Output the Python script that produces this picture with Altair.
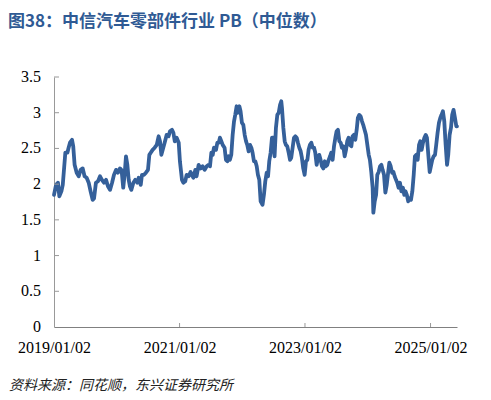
import altair as alt
import pandas as pd

title_text = "图38：中信汽车零部件行业 PB（中位数）"
source_text = "资料来源：同花顺，东兴证券研究所"

dates_2019 = ["2019-01-02","2019-01-14","2019-01-25","2019-02-02","2019-02-14","2019-02-22","2019-03-01","2019-03-09","2019-03-21","2019-03-28",
              "2019-04-05","2019-04-17","2019-04-24","2019-05-02","2019-05-14","2019-05-26","2019-06-06","2019-06-18","2019-06-29","2019-07-11",
              "2019-07-23","2019-08-03","2019-08-15","2019-08-23","2019-09-03","2019-09-15","2019-09-27","2019-10-08","2019-10-20","2019-11-01",
              "2019-11-12","2019-11-24","2019-12-06","2019-12-17","2019-12-29","2020-01-09","2020-01-21","2020-01-29"]
pb_2019 = [1.85,1.99,2.02,1.83,1.90,1.99,2.20,2.44,2.44,2.51,
           2.58,2.62,2.53,2.27,2.16,2.11,2.20,2.22,2.11,2.09,
           2.02,1.90,1.78,1.80,2.02,2.04,2.11,2.06,2.02,2.06,
           1.97,1.92,2.02,2.13,2.20,2.16,2.22,2.20]

dates_2020 = ["2020-02-02","2020-02-09","2020-02-17","2020-02-25","2020-03-04","2020-03-12","2020-03-19","2020-03-27","2020-04-08","2020-04-19",
              "2020-05-01","2020-05-09","2020-05-21","2020-05-28","2020-06-09","2020-06-20","2020-07-02","2020-07-10","2020-07-18","2020-07-29",
              "2020-08-10","2020-08-22","2020-09-02","2020-09-10","2020-09-18","2020-09-26","2020-10-07","2020-10-19","2020-10-30","2020-11-07",
              "2020-11-19","2020-11-27","2020-12-05","2020-12-16","2020-12-28","2021-01-04","2021-01-16","2021-01-24","2021-02-04","2021-02-12",
              "2021-02-24","2021-03-07"]
pb_2020 = [2.13,1.95,2.13,2.39,2.27,2.06,1.97,1.92,2.02,2.06,
           2.02,2.09,1.99,2.13,2.13,2.16,2.20,2.41,2.44,2.48,
           2.51,2.55,2.67,2.60,2.41,2.48,2.58,2.69,2.67,2.74,
           2.76,2.72,2.60,2.65,2.58,2.32,2.06,2.02,2.04,2.13,
           2.11,2.17]

dates_2021 = ["2021-03-15","2021-03-23","2021-04-04","2021-04-11","2021-04-23","2021-05-05","2021-05-16","2021-05-28","2021-06-09","2021-06-20",
              "2021-06-28","2021-07-06","2021-07-14","2021-07-21","2021-08-02","2021-08-10","2021-08-18","2021-08-25","2021-09-02","2021-09-10",
              "2021-09-21","2021-09-29","2021-10-07","2021-10-15","2021-10-22","2021-10-30","2021-11-07","2021-11-15","2021-11-22","2021-11-30",
              "2021-12-08","2021-12-16","2021-12-23","2021-12-31","2022-01-08","2022-01-16","2022-01-24","2022-01-31","2022-02-08","2022-02-16",
              "2022-02-24","2022-03-03","2022-03-11","2022-03-19","2022-03-27","2022-04-03","2022-04-11","2022-04-19"]
pb_2021 = [2.13,2.09,2.20,2.11,2.27,2.22,2.25,2.20,2.25,2.27,
           2.25,2.44,2.41,2.51,2.48,2.58,2.58,2.65,2.60,2.55,
           2.51,2.34,2.32,2.39,2.34,2.41,2.69,2.88,2.97,3.09,
           3.00,3.09,3.02,2.86,2.83,2.69,2.60,2.55,2.46,2.55,
           2.51,2.44,2.32,2.32,2.25,2.13,2.06,1.76]

dates_2022 = ["2022-04-30","2022-05-08","2022-05-16","2022-05-24","2022-06-01","2022-06-08","2022-06-16","2022-06-24","2022-07-02","2022-07-09",
              "2022-07-17","2022-07-25","2022-08-02","2022-08-10","2022-08-17","2022-08-21","2022-08-29","2022-09-06","2022-09-13","2022-09-21",
              "2022-09-29","2022-10-07","2022-10-14","2022-10-22","2022-10-30","2022-11-07","2022-11-15","2022-11-22","2022-11-30","2022-12-08",
              "2022-12-15","2022-12-23","2022-12-31","2023-01-08","2023-01-16","2023-01-23","2023-01-31","2023-02-08","2023-02-16","2023-02-24",
              "2023-03-03","2023-03-11","2023-03-19","2023-03-26","2023-04-03","2023-04-11","2023-04-19","2023-04-27","2023-05-04","2023-05-12",
              "2023-05-20","2023-05-28","2023-06-04"]
pb_2022 = [1.71,1.85,2.04,2.16,2.11,2.32,2.44,2.65,2.65,2.39,
           2.79,2.97,3.00,3.11,3.16,3.07,2.79,2.60,2.55,2.53,
           2.44,2.34,2.37,2.51,2.65,2.67,2.65,2.58,2.51,2.46,
           2.37,2.22,2.13,2.32,2.34,2.48,2.55,2.58,2.51,2.51,
           2.44,2.27,2.37,2.41,2.34,2.25,2.22,2.32,2.25,2.27,
           2.34,2.39,2.44]

dates_2023 = ["2023-06-12","2023-06-20","2023-06-28","2023-07-05","2023-07-13","2023-07-21","2023-07-29","2023-08-05","2023-08-13","2023-08-21",
              "2023-08-29","2023-09-05","2023-09-13","2023-09-21","2023-09-29","2023-10-06","2023-10-14","2023-10-22","2023-10-30","2023-11-06",
              "2023-11-14","2023-11-22","2023-11-30","2023-12-07","2023-12-15","2023-12-23","2023-12-31","2024-01-08","2024-01-15","2024-01-23",
              "2024-01-31","2024-02-04","2024-02-12","2024-02-20","2024-02-27","2024-03-06","2024-03-14","2024-03-22","2024-03-29","2024-04-06",
              "2024-04-14","2024-04-22","2024-04-30","2024-05-07","2024-05-15","2024-05-23","2024-05-31","2024-06-07","2024-06-15","2024-06-22",
              "2024-06-30","2024-07-08","2024-07-16"]
pb_2023 = [2.34,2.53,2.65,2.74,2.76,2.60,2.58,2.51,2.53,2.39,
           2.48,2.60,2.65,2.55,2.53,2.67,2.69,2.62,2.76,2.93,
           2.97,2.95,2.88,2.83,2.76,2.69,2.55,2.41,2.34,2.17,
           1.95,1.60,1.76,1.85,2.13,2.17,2.25,2.27,2.20,2.13,
           1.88,1.99,2.16,2.30,2.25,2.16,2.17,2.11,2.06,2.02,
           1.95,2.02,1.90]

dates_2024 = ["2024-07-25","2024-08-02","2024-08-09","2024-08-17","2024-08-25","2024-09-02","2024-09-10","2024-09-18","2024-09-26","2024-10-03",
              "2024-10-11","2024-10-19","2024-10-27","2024-11-03","2024-11-11","2024-11-19","2024-11-27","2024-12-05","2024-12-12","2024-12-20",
              "2024-12-28","2025-01-04","2025-01-12","2025-01-20","2025-01-28","2025-02-04","2025-02-12","2025-02-20","2025-02-28","2025-03-07",
              "2025-03-15","2025-03-23","2025-03-31","2025-04-08","2025-04-15","2025-04-23","2025-05-01","2025-05-08","2025-05-16","2025-05-24",
              "2025-06-01","2025-06-05"]
pb_2024 = [1.95,1.85,1.90,1.85,1.76,1.80,1.78,1.90,2.13,2.39,
           2.41,2.34,2.55,2.60,2.48,2.58,2.65,2.69,2.65,2.41,
           2.17,2.25,2.34,2.39,2.41,2.55,2.72,2.86,2.93,2.97,
           3.02,2.88,2.55,2.27,2.41,2.69,2.79,2.97,3.04,2.93,
           2.81,2.81]

y_tick_values = [0, 0.5, 1, 1.5, 2, 2.5, 3, 3.5]
y_tick_labels = ["0", "0.5", "1", "1.5", "2", "2.5", "3", "3.5"]
x_tick_dates = ["2019-01-02", "2021-01-02", "2023-01-02", "2025-01-02"]

dates = dates_2019 + dates_2020 + dates_2021 + dates_2022 + dates_2023 + dates_2024
pb = pb_2019 + pb_2020 + pb_2021 + pb_2022 + pb_2023 + pb_2024
df = pd.DataFrame({"date": dates, "pb": pb})


def dt(s):
    y, m, d = (int(p) for p in s.split("-"))
    return alt.DateTime(year=y, month=m, date=d, utc=True)


x_scale = alt.Scale(type="utc", domain=[dt("2019-01-02"), dt("2025-06-05")])
y_scale = alt.Scale(domain=[0, 3.5], nice=False, zero=True)

line_color = "#35609A"
title_color = "#2F5A94"

line = alt.Chart(df).mark_line(color=line_color, strokeWidth=3.8, strokeJoin="round", strokeCap="round").encode(
    x=alt.X("date:T", scale=x_scale, title=None,
            axis=alt.Axis(values=[dt(s) for s in x_tick_dates],
                          labelExpr="utcFormat(datum.value, '%Y/%m/%d')",
                          ticks=False, grid=False, labelPadding=12,
                          domainColor="#808080", labelFlush=False, labelOverlap=False)),
    y=alt.Y("pb:Q", scale=y_scale, title=None,
            axis=alt.Axis(values=y_tick_values, labels=False,
                          ticks=False, grid=False, domainColor="#999999")),
)

xt = alt.Chart(pd.DataFrame({"date": x_tick_dates[1:]})).mark_rule(color="#999999", strokeWidth=1).encode(
    x=alt.X("date:T"), y=alt.value(246), y2=alt.value(250)
)
yt = alt.Chart(pd.DataFrame({"pb": y_tick_values[1:]})).mark_rule(color="#999999", strokeWidth=1).encode(
    y=alt.Y("pb:Q"), x=alt.value(0), x2=alt.value(5)
)
ylab = alt.Chart(pd.DataFrame({"pb": y_tick_values, "lab": y_tick_labels})).mark_text(
    align="right", baseline="middle", font="Liberation Serif", fontSize=16, color="#000000"
).encode(y=alt.Y("pb:Q"), x=alt.value(-13), text="lab:N")

title_layer = alt.Chart(pd.DataFrame({"t": [title_text]})).mark_text(
    align="left", baseline="middle", font="Noto Sans CJK SC", fontSize=17, fontWeight="bold", color=title_color
).encode(x=alt.value(-46), y=alt.value(-55), text="t:N")

source_layer = alt.Chart(pd.DataFrame({"t": [source_text]})).mark_text(
    align="left", baseline="middle", font="Noto Sans CJK SC", fontSize=14, fontStyle="italic", color="#222222"
).encode(x=alt.value(-45), y=alt.value(308.5), text="t:N")

chart = alt.layer(line, xt, yt, ylab, title_layer, source_layer).properties(
    width=403, height=250,
    padding={"left": 46, "top": 69, "right": 26, "bottom": 80},
    autosize=alt.AutoSizeParams(type="none"),
).configure_view(stroke=None).configure_axis(
    labelFont="Liberation Serif", labelFontSize=16, labelColor="#000000", grid=False
)

chart.save("out.html", embed_options={"renderer": "svg", "actions": False})
